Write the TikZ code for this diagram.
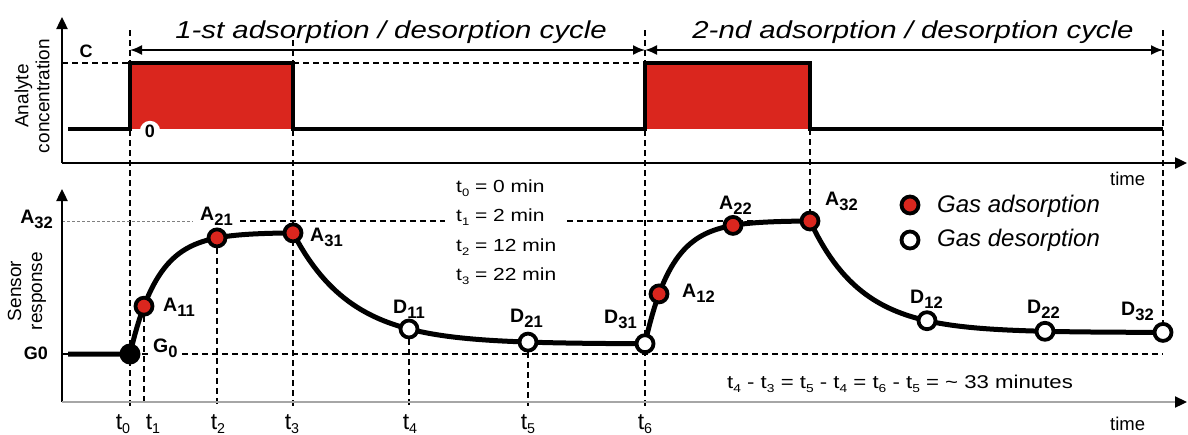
\documentclass[tikz,border=0pt]{standalone}
\usepackage{fontspec}
\setmainfont{Liberation Sans}
\newfontfamily\widefont[FakeStretch=1.2]{Liberation Sans}
\usetikzlibrary{arrows.meta}
\definecolor{pulsered}{RGB}{218,38,30}
\newcommand{\fsz}[1]{\fontsize{#1}{#1}\selectfont}
\newcommand{\bsub}[1]{\raisebox{-5pt}{\scalebox{0.85}{#1}}}
\newcommand{\tsub}[1]{\raisebox{-4pt}{\scalebox{0.62}{#1}}}
\begin{document}
\begin{tikzpicture}[x=1pt,y=-1pt,
  axis/.style={line width=2.4pt,-{Triangle[length=12pt,width=11pt]}},
  guide/.style={line width=1.6pt,dash pattern=on 6pt off 4pt},
  faint/.style={line width=1pt,gray,dash pattern=on 3pt off 2pt},
  signal/.style={line width=4.5pt,line join=miter},
  resp/.style={line width=5pt,line join=round},
  cyc/.style={line width=1.8pt,{Latex[length=12pt,width=10pt]}-{Latex[length=12pt,width=10pt]}},
  adsorb/.style={circle,draw=black,line width=3.8pt,fill=pulsered,minimum size=17pt,inner sep=0pt},
  desorb/.style={circle,draw=black,line width=3.8pt,fill=white,minimum size=17pt,inner sep=0pt},
  startdot/.style={circle,fill=black,minimum size=21pt,inner sep=0pt},
  ptlabel/.style={anchor=base west,inner sep=0pt,font=\bfseries\fsz{19.5}},
  axlabel/.style={anchor=base,inner sep=0pt,font=\bfseries\fsz{18}},
  ticklabel/.style={anchor=base,inner sep=0pt,font=\fsz{23}},
  axtitle/.style={rotate=90,align=center,inner sep=0pt,font=\fontsize{19}{21}\selectfont},
  timelabel/.style={anchor=base west,inner sep=0pt,font=\fsz{18.5}},
  cyctitle/.style={anchor=base,inner sep=0pt,font=\widefont\itshape\fsz{24.5}},
  info/.style={anchor=base west,inner sep=0pt,font=\widefont\fsz{17.5}},
  legendtext/.style={anchor=base west,inner sep=0pt,font=\itshape\fsz{24}}
]
\useasboundingbox (0,0) rectangle (1188,434);
\fill[white] (0,0) rectangle (1188,434);

% ---------- key coordinates ----------
\coordinate (p0) at (130,354);
\coordinate (pA11) at (144,306.2);
\coordinate (pA21) at (217,237.9);
\coordinate (pA31) at (293,232.9);
\coordinate (pD11) at (409,329.0);
\coordinate (pD21) at (528,342.1);
\coordinate (pD31) at (645,343.7);
\coordinate (pA12) at (659,293.9);
\coordinate (pA22) at (733,225.4);
\coordinate (pA32) at (810,221.0);
\coordinate (pD12) at (927,320.7);
\coordinate (pD22) at (1045,331.3);
\coordinate (pD32) at (1163,332.4);

% ---------- red pulses ----------
\fill[pulsered] (130,63) rectangle (293,129);
\fill[pulsered] (645,63) rectangle (810,129);

% ---------- guide lines ----------
\coordinate (v0t) at (130,30);  \coordinate (v0b) at (130,406);
\coordinate (v3t) at (293,30);  \coordinate (v3b) at (293,406);
\coordinate (v6t) at (645,30);  \coordinate (v6b) at (645,406);
\coordinate (v9t) at (1163,30);
\coordinate (v7t) at (810,129);
\coordinate (v1b) at (144,406);
\coordinate (v2b) at (217,406);
\coordinate (v4b) at (409,406);
\coordinate (v5b) at (528,406);
\draw[guide] (v0t) -- (v0b);
\draw[guide] (v3t) -- (v3b);
\draw[guide] (v6t) -- (v6b);
\draw[guide] (v9t) -- (pD32);
\draw[guide] (v7t) -- (pA32);
\draw[guide] (pA11) -- (v1b);
\draw[guide] (pA21) -- (v2b);
\draw[guide] (pD11) -- (v4b);
\draw[guide] (pD21) -- (v5b);
% C level
\coordinate (cL) at (62,63); \coordinate (cR1) at (130,63);
\coordinate (cL2) at (293,63); \coordinate (cR2) at (645,63);
\draw[guide] (cL) -- (cR1);
\draw[guide] (cL2) -- (cR2);
% A32 level
\coordinate (aL) at (62,221); \coordinate (aM) at (193,221);
\coordinate (aS1) at (240,221); \coordinate (aE1) at (445,221);
\coordinate (aS2) at (567,221);
\draw[faint] (aL) -- (aM);
\draw[guide] (aS1) -- (aE1);
\draw[guide] (aS2) -- (pA32);
% G0 level
\coordinate (gL) at (62,354); \coordinate (gR) at (1163,354);
\draw[guide] (gL) -- (gR);

% ---------- axes ----------
\coordinate (o1) at (62,163);
\coordinate (y1) at (62,17);
\coordinate (x1) at (1187,163);
\coordinate (o2) at (62,402);
\coordinate (y2) at (62,189);
\coordinate (x2) at (1187,402);
\draw[axis] (o1) -- (y1);
\draw[axis] (o1) -- (x1);
\draw[axis] (o2) -- (y2);
\draw[line width=2.2pt,gray!70,-{Triangle[length=12pt,width=11pt,color=black]}] (o2) -- (x2);

% ---------- cycle arrows ----------
\coordinate (c0) at (130,50);
\coordinate (c1) at (645,50);
\coordinate (c2) at (1163,50);
\draw[cyc] (c0) -- (c1);
\draw[cyc] (c1) -- (c2);
\node[cyctitle] (ttl1) at (391,38) {1-st adsorption / desorption cycle};
\node[cyctitle] (ttl2) at (913,38) {2-nd adsorption / desorption cycle};

% ---------- concentration pulse ----------
\draw[signal] (68,129) -- (130,129) -- (130,63) -- (293,63) -- (293,129)
  -- (645,129) -- (645,63) -- (810,63) -- (810,129) -- (1163,129);

% ---------- sensor response ----------
\draw[resp] (68,354) -- (p0)
  -- plot[domain=130:293,samples=70] (\x,{354-121.5*(1-exp(-(\x-130)/28))})
  -- plot[domain=293:645,samples=90] (\x,{344-111.1*exp(-(\x-293)/58)})
  -- plot[domain=645:810,samples=70] (\x,{343.7-123*(1-exp(-(\x-645)/27))})
  -- plot[domain=810:1163,samples=90] (\x,{332.5-111.5*exp(-(\x-810)/52)});

% ---------- markers ----------
\node[startdot] (G0dot) at (p0) {};
\node[adsorb] (A11) at (pA11) {};
\node[adsorb] (A21) at (pA21) {};
\node[adsorb] (A31) at (pA31) {};
\node[desorb] (D11) at (pD11) {};
\node[desorb] (D21) at (pD21) {};
\node[desorb] (D31) at (pD31) {};
\node[adsorb] (A12) at (pA12) {};
\node[adsorb] (A22) at (pA22) {};
\node[adsorb] (A32) at (pA32) {};
\node[desorb] (D12) at (pD12) {};
\node[desorb] (D22) at (pD22) {};
\node[desorb] (D32) at (pD32) {};

% ---------- point labels ----------
\node[ptlabel] (lA11) at (163,311) {A\bsub{11}};
\node[ptlabel] (lA21) at (200,220) {A\bsub{21}};
\node[ptlabel] (lA31) at (310,241) {A\bsub{31}};
\node[ptlabel] (lD11) at (393,313) {D\bsub{11}};
\node[ptlabel] (lD21) at (510,322) {D\bsub{21}};
\node[ptlabel] (lD31) at (604,323) {D\bsub{31}};
\node[ptlabel] (lA12) at (682,297) {A\bsub{12}};
\node[ptlabel] (lA22) at (719,209) {A\bsub{22}};
\node[ptlabel] (lA32) at (825,205) {A\bsub{32}};
\node[ptlabel] (lD12) at (910,303) {D\bsub{12}};
\node[ptlabel] (lD22) at (1027,313) {D\bsub{22}};
\node[ptlabel] (lD32) at (1121,315) {D\bsub{32}};
\node[ptlabel,fill=white,inner sep=1.5pt] (lG0) at (151.5,352) {G\bsub{0}};

% ---------- axis labels ----------
\node[axlabel] (lC) at (86,57) {C};
\node[circle,fill=white,inner sep=1.5pt,font=\bfseries\fsz{18}] (lzero) at (150,131) {0};
\node[axlabel,anchor=base east] (lA32ax) at (53,223) {\fsz{19.5}A\bsub{32}};
\node[axlabel,anchor=base east] (lG0ax) at (48,359) {G0};
\node[axtitle] (tconc) at (32,96) {Analyte\\concentration};
\node[axtitle] (tsens) at (27,291) {Sensor\\response};
\node[timelabel] (time1) at (1110,185) {time};
\node[timelabel] (time2) at (1110,430) {time};

% ---------- time ticks ----------
\node[ticklabel] (tk0) at (123,429) {t\tsub{0}};
\node[ticklabel] (tk1) at (153,429) {t\tsub{1}};
\node[ticklabel] (tk2) at (218,429) {t\tsub{2}};
\node[ticklabel] (tk3) at (292,429) {t\tsub{3}};
\node[ticklabel] (tk4) at (410,429) {t\tsub{4}};
\node[ticklabel] (tk5) at (528,429) {t\tsub{5}};
\node[ticklabel] (tk6) at (645,429) {t\tsub{6}};

% ---------- info text ----------
\node[info] (i0) at (456,192) {t\tsub{0} = 0 min};
\node[info] (i1) at (456,221.5) {t\tsub{1} = 2 min};
\node[info] (i2) at (456,251) {t\tsub{2} = 12 min};
\node[info] (i3) at (456,280) {t\tsub{3} = 22 min};
\node[info,font=\widefont\fsz{18.5}] (iperiod) at (727,388)
  {t\tsub{4} - t\tsub{3} = t\tsub{5} - t\tsub{4} = t\tsub{6} - t\tsub{5} = \char`\~\ 33 minutes};

% ---------- legend ----------
\node[adsorb] (legA) at (910,205) {};
\node[desorb] (legD) at (910,240) {};
\node[legendtext] (legAt) at (937,212) {Gas adsorption};
\node[legendtext] (legDt) at (937,246) {Gas desorption};
\end{tikzpicture}
\end{document}
